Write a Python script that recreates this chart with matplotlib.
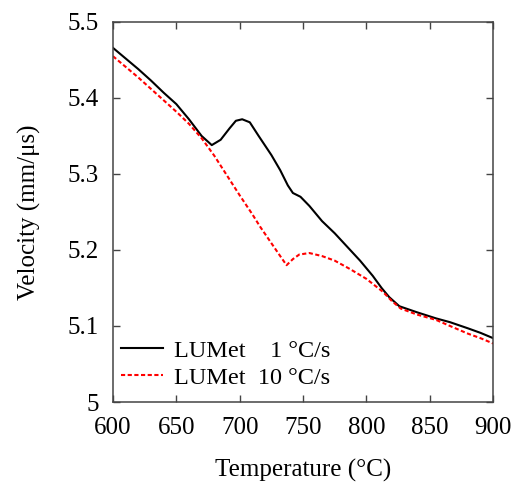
import numpy as np
import matplotlib
matplotlib.use("Agg")
import matplotlib.pyplot as plt

# LUMet, 1 °C/s
temp_1 = [600, 610, 620, 630, 640, 650, 660, 670, 678, 685, 692, 697, 702, 708,
          715, 725, 732, 738, 742, 748, 755, 765, 775, 785, 795, 805, 812, 818,
          826, 840, 855, 866, 880, 890, 900]
vel_1 = [5.466, 5.452, 5.438, 5.423, 5.407, 5.392, 5.372, 5.350, 5.338, 5.345,
         5.360, 5.370, 5.372, 5.368, 5.350, 5.325, 5.305, 5.285, 5.275, 5.270,
         5.258, 5.238, 5.222, 5.204, 5.186, 5.166, 5.150, 5.138, 5.126, 5.118,
         5.110, 5.105, 5.097, 5.091, 5.084]

# LUMet, 10 °C/s
temp_10 = [600, 610, 620, 630, 640, 650, 660, 670, 680, 690, 700, 710, 716, 725,
           732, 737, 742, 747, 755, 765, 775, 787, 800, 813, 820, 827, 840, 855,
           866, 880, 890, 900]
vel_10 = [5.455, 5.441, 5.427, 5.412, 5.397, 5.382, 5.366, 5.347, 5.324, 5.298,
          5.272, 5.247, 5.231, 5.209, 5.192, 5.180, 5.188, 5.194, 5.196, 5.192,
          5.186, 5.175, 5.162, 5.145, 5.133, 5.123, 5.115, 5.108, 5.100, 5.090,
          5.084, 5.077]

x_ticks = [600, 650, 700, 750, 800, 850, 900]
y_ticks = [5.0, 5.1, 5.2, 5.3, 5.4, 5.5]
y_labels = ["5", "5.1", "5.2", "5.3", "5.4", "5.5"]

plt.rcParams['font.family'] = ['Liberation Serif', 'DejaVu Serif']

fig = plt.figure(figsize=(5.18, 4.83), dpi=100)
ax = fig.add_axes([0.218, 0.1677, 0.734, 0.7868])

ax.plot(temp_1, vel_1, color='black', lw=1.5, label="LUMet    1 °C/s")
ax.plot(temp_10, vel_10, color='#ff0000', lw=1.5, linestyle=(0, (2, 1.2)),
        label="LUMet  10 °C/s")

ax.set_xlim(600, 900)
ax.set_ylim(5.0, 5.5)
ax.set_xticks(x_ticks)
ax.set_yticks(y_ticks)
ax.set_yticklabels(y_labels)
ax.tick_params(direction='in', length=5, width=1, top=True, right=True,
               labelsize=18, pad=10, color='#444444')
ax.tick_params(axis='x', pad=11)
for s in ax.spines.values():
    s.set_color('#444444')
    s.set_linewidth(1.1)

ax.set_xlabel("Temperature (°C)", fontsize=18, labelpad=14)
ax.set_ylabel("Velocity (mm/μs)", fontsize=18, labelpad=19)

ax.legend(loc='lower left', bbox_to_anchor=(0.022, 0.035), frameon=False,
          fontsize=17.5, handlelength=1.7, handletextpad=0.45,
          labelspacing=0.2, borderpad=0, borderaxespad=0)

fig.savefig("out.png", dpi=100)
